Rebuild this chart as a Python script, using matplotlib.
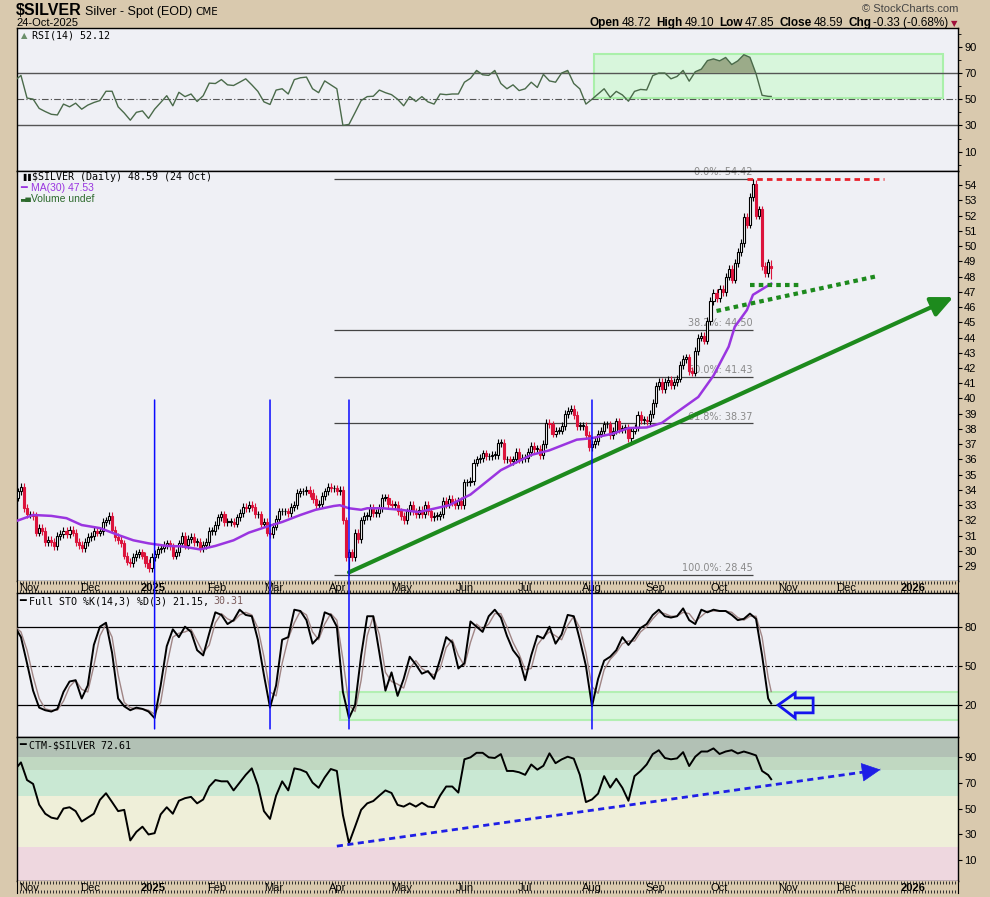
import numpy as np
import pandas as pd
import matplotlib
matplotlib.use('Agg')
import matplotlib.pyplot as plt
from matplotlib.patches import Rectangle, Polygon, ConnectionPatch

# ---------------- data ----------------
holidays = ['2024-11-28', '2024-12-25', '2025-01-01', '2025-01-20', '2025-02-17',
            '2025-04-18', '2025-05-26', '2025-06-19', '2025-07-04', '2025-09-01',
            '2025-11-27', '2025-12-25', '2026-01-01', '2026-01-19']

close_oct24 = [33.5, 33.9, 34.2, 32.8]
close_nov24 = [32.4, 32.4, 32.3, 31.2, 31.5, 31.3, 30.6, 30.7, 30.6, 30.3,
               31.0, 31.1, 31.3, 31.1, 31.4, 31.2, 30.6, 30.4, 30.2, 30.6]
close_dec24 = [30.9, 31.0, 31.3, 31.2, 31.3, 31.9, 32.0, 32.3, 31.4, 30.9,
               30.7, 30.5, 29.7, 29.3, 29.2, 29.6, 29.8, 29.9, 29.7, 29.2, 28.9]
close_jan25 = [29.6, 29.8, 30.1, 30.2, 30.4, 30.5, 30.3, 29.7, 29.9, 30.5,
               31.0, 30.4, 30.8, 30.9, 30.6, 30.6, 30.2, 30.4, 30.6, 31.3, 31.3]
close_feb25 = [31.7, 32.2, 32.4, 31.9, 31.9, 31.9, 31.8, 32.2, 32.5, 32.9,
               32.8, 33.0, 32.9, 32.4, 32.4, 31.8, 31.9, 31.2, 31.1]
close_mar25 = [31.6, 32.1, 32.6, 32.6, 32.6, 32.5, 32.9, 33.0, 33.8, 33.9,
               33.9, 34.0, 33.8, 33.4, 33.0, 33.1, 33.6, 33.9, 34.2, 34.1, 34.1]
close_apr25 = [33.9, 34.0, 32.0, 29.6, 29.9, 29.6, 31.2, 30.8, 32.0, 32.3,
               32.3, 32.8, 32.5, 32.5, 32.8, 33.5, 33.5, 33.1, 33.0, 33.0, 32.6]
close_may25 = [32.3, 32.0, 32.6, 33.0, 32.6, 32.4, 32.7, 32.4, 33.0, 32.6,
               32.2, 32.3, 32.3, 32.4, 33.3, 33.1, 33.4, 33.2, 33.0, 33.3, 33.0]
close_jun25 = [34.5, 34.5, 34.6, 35.8, 36.0, 36.1, 36.4, 36.2, 36.2, 36.3,
               36.3, 37.1, 37.1, 36.0, 36.0, 35.9, 36.0, 36.5, 36.0, 36.1]
close_jul25 = [36.1, 36.5, 36.9, 36.7, 36.7, 36.3, 37.0, 38.4, 38.3, 37.7, 37.9,
               37.9, 38.2, 39.0, 39.2, 39.3, 38.9, 38.2, 38.2, 38.2, 37.6, 36.8]
close_aug25 = [37.0, 37.2, 37.7, 37.9, 38.3, 38.3, 37.6, 37.9, 38.5, 38.0, 38.0,
               38.1, 37.4, 37.9, 38.1, 38.9, 38.6, 38.6, 38.5, 39.0, 39.7]
close_sep25 = [40.8, 41.1, 40.6, 41.1, 41.2, 40.9, 41.1, 41.3, 42.2, 42.6, 42.7,
               41.8, 41.7, 43.1, 44.0, 44.1, 43.8, 45.1, 46.4, 46.9, 46.6]
close_oct25 = [47.2, 47.0, 48.0, 48.5, 47.8, 48.9, 49.6, 50.2, 51.9, 51.4,
               53.2, 54.1, 52.0, 52.4, 48.7, 48.2, 48.92, 48.59]

last_ohlc = (48.72, 49.10, 47.85, 48.59)
swing_low = ('2025-04-07', 28.45)
swing_high = ('2025-10-16', 54.42)
wick = 0.25

ma30_dates = ['2024-10-29', '2024-11-05', '2024-11-13', '2024-11-20', '2024-11-27',
              '2024-12-06', '2024-12-16', '2024-12-23', '2024-12-31', '2025-01-09',
              '2025-01-16', '2025-01-27', '2025-02-03', '2025-02-11', '2025-02-19',
              '2025-02-27', '2025-03-06', '2025-03-14', '2025-03-21', '2025-03-31',
              '2025-04-02', '2025-04-07', '2025-04-11', '2025-04-15', '2025-04-23',
              '2025-05-01', '2025-05-09', '2025-05-23', '2025-06-04', '2025-06-18',
              '2025-07-03', '2025-07-14', '2025-07-25', '2025-08-01', '2025-08-12',
              '2025-08-19', '2025-08-27', '2025-09-04', '2025-09-12', '2025-09-22',
              '2025-09-29', '2025-10-06', '2025-10-08', '2025-10-14', '2025-10-16',
              '2025-10-24']
ma30_vals = [32.0, 32.36, 32.3, 32.15, 31.7, 31.5, 31.05, 30.7, 30.5, 30.33,
             30.3, 30.1, 30.33, 30.7, 31.2, 31.6, 31.9, 32.36, 32.7, 32.95,
             33.0, 32.8, 32.7, 32.8, 32.8, 32.7, 32.55, 33.0, 33.7, 35.3,
             36.3, 36.6, 37.3, 37.4, 37.7, 38.06, 38.1, 38.4, 39.25, 40.1,
             41.5, 43.4, 44.7, 45.8, 46.8, 47.53]

# indicator readings: every 2nd session, the last entry is the latest session
rsi_vals = [64.3, 68.2, 50.9, 50.1, 43, 40.6, 38.5, 38, 46.3, 44.2,
            47, 42.4, 45.5, 47.5, 49, 56.1, 56.1, 44.2, 39.5, 34,
            40, 41.1, 35.4, 42.4, 47.5, 52.7, 45, 55.3, 52, 54,
            48.3, 52.7, 62.3, 62, 65, 61, 60.5, 63, 65.6, 61,
            56, 48, 46, 57, 58, 54, 65, 66.4, 66.9, 58,
            55, 64, 61, 58, 30, 30.8, 39.8, 49, 52, 52.3,
            57, 55, 53.5, 50, 45, 52, 48.3, 52, 48, 46.3,
            54, 53.5, 54, 54, 63, 66, 72, 68.7, 68.2, 72,
            62, 58, 61, 56.6, 58, 63, 59, 69, 64, 63,
            70, 72, 62, 57.9, 46.3, 50, 54, 58, 51.4, 56,
            53.3, 48.5, 56, 57.5, 57.1, 68, 70, 70, 65.6, 67.4,
            72, 63.8, 71, 73, 79.5, 80.8, 79.3, 81.9, 76.5, 79.3,
            84, 82, 69.5, 53, 52.2, 52.12]
sto_k = [80, 72, 52, 31, 18, 16, 15, 17, 30, 38,
         39, 25, 35, 66, 80, 83, 60, 25, 19, 16,
         18, 17, 15, 10, 35, 65, 78, 72, 80, 76,
         62, 58, 75, 91, 89, 82, 85, 93, 89, 88,
         70, 43, 18, 35, 70, 72, 93, 92, 85, 67,
         72, 91, 89, 80, 30, 10, 20, 58, 88, 88,
         60, 31, 45, 27, 40, 57, 51, 44, 46, 40,
         55, 72, 68, 48, 52, 84, 80, 76, 88, 93,
         87, 73, 62, 56, 39, 58, 73, 71, 80, 67,
         74, 89, 88, 70, 50, 19, 40, 54, 57, 62,
         72, 66, 72, 79, 82, 89, 93, 88, 87, 88,
         94, 85, 82, 93, 91, 93, 92, 92, 89, 85,
         86, 90, 86, 58, 25, 21.15]
sto_d = [80, 76, 62, 42, 25, 17, 16, 16, 23, 34,
         39, 32, 30, 50, 73, 82, 72, 43, 22, 18,
         17, 17, 16, 13, 22, 50, 72, 75, 76, 78,
         69, 60, 66, 83, 90, 86, 84, 89, 91, 89,
         79, 57, 30, 27, 52, 71, 83, 92, 89, 76,
         70, 82, 90, 85, 55, 20, 15, 39, 73, 88,
         74, 45, 38, 36, 33, 48, 54, 48, 45, 43,
         48, 64, 70, 58, 50, 68, 82, 78, 82, 90,
         90, 80, 68, 59, 47, 48, 66, 72, 76, 73,
         70, 81, 88, 79, 60, 34, 29, 47, 55, 60,
         67, 69, 69, 76, 80, 86, 91, 90, 88, 88,
         91, 90, 84, 88, 92, 92, 92, 92, 91, 87,
         85, 88, 88, 72, 41, 30.31]
ctm_vals = [80, 85.6, 72, 69, 53, 46, 43, 42, 50, 51,
            48, 40, 43, 46, 56.7, 61.8, 55, 48, 49, 25.4,
            32, 36, 30, 31, 45.5, 51, 46, 56, 58, 59,
            54, 57, 67, 72, 71, 71, 64, 70, 76, 81,
            68, 48, 42, 60, 71, 64, 81, 80, 78, 70,
            66, 74, 80.5, 79, 45, 23.3, 36, 49, 54, 55.8,
            60, 64, 62, 52.8, 51.5, 54, 51.5, 54.5, 51.5, 51,
            60, 67, 67, 62.3, 88, 89.5, 93, 93, 89.5, 89,
            92, 79, 79, 78, 76, 84, 80, 83, 92.6, 85,
            87.9, 90, 88.5, 76, 55, 57, 61.5, 75, 66.2, 73,
            66, 56, 75, 79, 84, 92, 95, 89, 88, 88.7,
            93.5, 82.8, 90, 94, 94, 96.4, 92.1, 94, 95, 92.5,
            94, 92.6, 91, 79, 75.9, 72.61]

fib_pct = ['0.0%', '38.2%', '50.0%', '61.8%', '100.0%']
fib_vals = [54.42, 44.50, 41.43, 38.37, 28.45]
cycle_lows = ['2025-01-03', '2025-02-28', '2025-04-07', '2025-08-01']

close = (close_oct24 + close_nov24 + close_dec24 + close_jan25 + close_feb25 +
         close_mar25 + close_apr25 + close_may25 + close_jun25 + close_jul25 +
         close_aug25 + close_sep25 + close_oct25)

# ---------------- trading calendar ----------------
cal = pd.bdate_range('2024-10-28', '2026-02-27')
cal = cal[~cal.isin(pd.to_datetime(holidays))]
pos = {d: i for i, d in enumerate(cal)}


def ix(s):
    return pos[pd.Timestamp(s)]


n = len(close)
xs = np.arange(n)
x2 = list(range(0, n, 2)) + [n - 1]
XL = (0.7, 310.5)

# ---------------- figure layout ----------------
W, H = 990, 897
FRAME = '#d9c9ae'
PANEL = '#eff0f5'
fig = plt.figure(figsize=(W / 100, H / 100), dpi=100, facecolor=FRAME)


def fx(px):
    return px / W


def fy(py):
    return 1 - py / H


def box(top, bottom):
    return [fx(17), fy(bottom), (958 - 17) / W, (bottom - top) / H]


ax_r = fig.add_axes(box(28, 171))
ax_p = fig.add_axes(box(171, 581))
ax_b1 = fig.add_axes(box(581, 593))
ax_s = fig.add_axes(box(593, 737))
ax_c = fig.add_axes(box(737, 881))
ax_b2 = fig.add_axes(box(881, 893))

tickfont = dict(family='Liberation Sans', size=8)
for ax in (ax_r, ax_p, ax_s, ax_c):
    ax.set_facecolor(PANEL)
    ax.set_xlim(*XL)
    ax.yaxis.tick_right()
    ax.tick_params(axis='x', which='both', bottom=False, top=False, labelbottom=False)
    ax.tick_params(axis='y', which='major', direction='out', length=3, width=0.8, pad=1.5)
    ax.tick_params(axis='y', which='minor', direction='out', length=2, width=0.6)
    for s in ax.spines.values():
        s.set_linewidth(1.0)

# date bands
for ax in (ax_b1, ax_b2):
    ax.set_facecolor(FRAME)
    ax.set_xlim(*XL)
    ax.set_ylim(0, 1)
    ax.set_yticks([])
    ax.set_xticks([])
    ax.set_xticks(np.arange(0, 312), minor=True)
    ax.tick_params(axis='x', which='minor', top=True, bottom=True, direction='in',
                   length=2.2, width=0.7, color='#303030')
    ax.spines['top'].set_visible(False)
    ax.spines['bottom'].set_visible(False)
    last_month = None
    for i, d in enumerate(cal):
        if i > XL[1]:
            break
        key = (d.year, d.month)
        if key != last_month:
            last_month = key
            if i < 2:
                continue
            if d.month == 1:
                ax.text(i, 0.45, str(d.year), ha='center', va='center',
                        fontsize=8, fontweight='bold', family='Liberation Sans')
            else:
                ax.text(i, 0.45, d.strftime('%b'), ha='center', va='center',
                        fontsize=8, family='Liberation Sans')

# ---------------- RSI panel ----------------
rsi = np.array(rsi_vals)
ax_r.set_ylim(-4.8, 104.4)
ax_r.set_yticks([10, 30, 50, 70, 90])
ax_r.set_yticks(np.arange(0, 101, 10), minor=True)
ax_r.set_yticklabels([str(v) for v in [10, 30, 50, 70, 90]], fontdict=tickfont)
ax_r.add_patch(Rectangle((ix('2025-08-01') + 0.6, 51), ix('2026-01-15') - ix('2025-08-01'),
                         33.5, facecolor='#d8f6dc', edgecolor='#aaf0aa', lw=1.5, zorder=1))
ax_r.axhline(70, color='#555555', lw=1.0, zorder=2)
ax_r.axhline(30, color='#555555', lw=1.0, zorder=2)
ax_r.axhline(50, color='#555555', lw=0.8, ls=(0, (6, 2, 1, 2)), zorder=2)
ax_r.fill_between(x2, rsi, 70, where=rsi >= 70, interpolate=True,
                  color='#9bab89', zorder=3, lw=0)
ax_r.plot(x2, rsi, color='#4a6a4a', lw=1.0, zorder=4)
ax_r.text(0.016, 0.95, 'RSI(14) 52.12', transform=ax_r.transAxes, va='center',
          fontsize=7.2, family='DejaVu Sans Mono')
ax_r.text(0.004, 0.95, '\u25b2', transform=ax_r.transAxes, va='center',
          fontsize=6, color='#6b8f6b')

# ---------------- price panel ----------------
c = np.array(close)
o = np.r_[c[0], c[:-1]]
o[-1] = last_ohlc[0]
hi = np.maximum(o, c) + wick
lo = np.minimum(o, c) - wick
hi[-1], lo[-1] = last_ohlc[1], last_ohlc[2]
lo[ix(swing_low[0])] = swing_low[1]
hi[ix(swing_high[0])] = swing_high[1]
up = c >= o
dn = ~up
RED = '#dc143c'

ax_p.set_ylim(28.03, 54.92)
pt = list(range(29, 55))
ax_p.set_yticks(pt)
ax_p.set_yticklabels([str(v) for v in pt], fontdict=tickfont)

f0, f1 = ix('2025-03-31'), ix('2025-10-16')
for p, v in zip(fib_pct, fib_vals):
    ax_p.hlines(v, f0, f1, color='#444444', lw=0.9, zorder=1)
    ax_p.text(f1 - 0.2, v + 0.12, f'{p}: {v:.2f}', ha='right', va='bottom',
              fontsize=7, color='#8a8a8a', zorder=1)

ax_p.vlines(xs[up], lo[up], hi[up], color='black', lw=0.8, zorder=2)
ax_p.vlines(xs[dn], lo[dn], hi[dn], color=RED, lw=0.8, zorder=2)
body = np.maximum(np.abs(c - o), 0.05)
ax_p.bar(xs[up], body[up], bottom=np.minimum(o, c)[up], width=0.7,
         facecolor='white', edgecolor='black', lw=0.8, zorder=3)
ax_p.bar(xs[dn], body[dn], bottom=np.minimum(o, c)[dn], width=0.7,
         facecolor=RED, edgecolor=RED, lw=0.8, zorder=3)

ax_p.plot([ix(d) for d in ma30_dates], ma30_vals, color='#9a35e0', lw=1.8, zorder=4)

GREEN = '#1d8a1d'
ax_p.annotate('', xy=(ix('2026-01-22'), 46.65), xytext=(ix(swing_low[0]), 28.6),
              arrowprops=dict(arrowstyle='-|>,head_length=1.2,head_width=0.55',
                              color=GREEN, lw=3, mutation_scale=11,
                              shrinkA=0, shrinkB=0), zorder=5)
ax_p.plot([ix('2025-09-30'), ix('2025-12-15')], [45.74, 48.03], color=GREEN,
          lw=3, ls=(0, (1.1, 1.0)), zorder=5)
ax_p.plot([ix('2025-10-15'), ix('2025-11-06')], [47.42, 47.42], color=GREEN,
          lw=3, ls=(0, (1.1, 1.0)), zorder=5)
ax_p.plot([ix('2025-10-14'), ix('2025-12-17')], [54.42, 54.42], color='#e8202a',
          lw=2, ls=(0, (2, 1.5)), zorder=5)

ax_p.text(0.016, 0.985, '$SILVER (Daily) 48.59 (24 Oct)', transform=ax_p.transAxes,
          va='center', fontsize=7.2, family='DejaVu Sans Mono')
ax_p.text(0.0035, 0.985, '\u2590\u2590', transform=ax_p.transAxes, va='center',
          fontsize=5, color='black')
ax_p.text(0.0035, 0.958, '\u2501', transform=ax_p.transAxes, va='center',
          fontsize=8, color='#9a35e0')
ax_p.text(0.0145, 0.958, 'MA(30) 47.53', transform=ax_p.transAxes, va='center',
          fontsize=7.5, color='#9a35e0', family='Liberation Sans')
ax_p.text(0.0035, 0.932, '\u2583\u2585', transform=ax_p.transAxes, va='center',
          fontsize=5, color='#2d6a2d')
ax_p.text(0.0145, 0.932, 'Volume undef', transform=ax_p.transAxes, va='center',
          fontsize=7.5, color='#2d6a2d', family='Liberation Sans')

# ---------------- Full STO panel ----------------
ax_s.set_ylim(-4.5, 105.8)
ax_s.set_yticks([20, 50, 80])
ax_s.set_yticklabels(['20', '50', '80'], fontdict=tickfont)
ax_s.add_patch(Rectangle((ix('2025-04-02'), 8.5), XL[1] - ix('2025-04-02') + 1, 21.3,
                         facecolor='#d8f6dc', edgecolor='#b3efb3', lw=1.5, zorder=1))
ax_s.axhline(80, color='black', lw=0.9, zorder=2)
ax_s.axhline(20, color='black', lw=0.9, zorder=2)
ax_s.axhline(50, color='black', lw=0.8, ls=(0, (6, 2, 1, 2)), zorder=2)
ax_s.plot(x2, sto_d, color='#a08585', lw=1.0, zorder=3)
ax_s.plot(x2, sto_k, color='black', lw=1.4, zorder=4)
tip = n - 1 + 2.3
arrow_pts = [(tip, 20), (tip + 5.6, 29.2), (tip + 5.6, 25.4), (tip + 11.5, 25.4),
             (tip + 11.5, 14.0), (tip + 5.6, 14.0), (tip + 5.6, 10.1)]
ax_s.add_patch(Polygon(arrow_pts, closed=True, facecolor='none',
                       edgecolor='#1414ee', lw=2, zorder=5))

# ---------------- CTM panel ----------------
ax_c.set_ylim(-5.9, 105.2)
ax_c.set_yticks([10, 30, 50, 70, 90])
ax_c.set_yticklabels(['10', '30', '50', '70', '90'], fontdict=tickfont)
for a, b, col in [(90, 106, '#b2c1b5'), (80, 90, '#c0d8c1'), (60, 80, '#c9e8d3'),
                  (20, 60, '#efefd9'), (-6, 20, '#eed7df')]:
    ax_c.axhspan(a, b, color=col, lw=0, zorder=0)
ax_c.plot(x2, ctm_vals, color='black', lw=1.4, zorder=3)
a0, a1 = (ix('2025-04-01'), 21.0), (ix('2025-12-16'), 80.0)
ax_c.plot([a0[0], a1[0]], [a0[1], a1[1]], color='#1f1fe6', lw=2,
          ls=(0, (2.2, 1.6)), zorder=4)
slope = (a1[1] - a0[1]) / (a1[0] - a0[0])
ax_c.annotate('', xy=a1, xytext=(a1[0] - 4, a1[1] - 4 * slope),
              arrowprops=dict(arrowstyle='-|>,head_length=0.9,head_width=0.45',
                              color='#1f1fe6', lw=0.5, mutation_scale=14,
                              shrinkA=0, shrinkB=0), zorder=4)

# ---------------- cycle-low verticals ----------------
for d in cycle_lows:
    con = ConnectionPatch(xyA=(ix(d), 39.9), coordsA='data', axesA=ax_p,
                          xyB=(ix(d), 1.7), coordsB='data', axesB=ax_s,
                          color='#0a0aff', lw=1.1, zorder=10)
    fig.add_artist(con)

# ---------------- header / legend text rows ----------------
renderer = fig.canvas.get_renderer()


def text_row(x, y, pieces, right=False):
    arts, widths = [], []
    for s, kw, gap in pieces:
        t = fig.text(0, fy(y), s, va='baseline', **kw)
        arts.append(t)
        widths.append(t.get_window_extent(renderer).width + gap)
    cur = x - sum(widths) if right else x
    for t, w in zip(arts, widths):
        t.set_x(fx(cur))
        cur += w


LS = 'Liberation Sans'
text_row(16, 15, [('$SILVER', dict(fontsize=11.5, fontweight='bold', family=LS), 3),
                  ('Silver - Spot (EOD)', dict(fontsize=9, family=LS), 4),
                  ('CME', dict(fontsize=7.5, family='DejaVu Sans'), 0)])
fig.text(fx(16), fy(26), '24-Oct-2025', fontsize=8, family=LS, va='baseline')
fig.text(fx(958), fy(12), '\u00a9 StockCharts.com', fontsize=8, family=LS,
         color='#444444', ha='right', va='baseline')
bold = dict(fontsize=8.5, fontweight='bold', family=LS)
reg = dict(fontsize=8.5, family=LS)
text_row(957, 26, [('Open', bold, 2), ('48.72', reg, 5), ('High', bold, 2),
                   ('49.10', reg, 5), ('Low', bold, 2), ('47.85', reg, 5),
                   ('Close', bold, 2), ('48.59', reg, 5), ('Chg', bold, 2),
                   ('-0.33 (-0.68%)', reg, 2),
                   ('\u25bc', dict(fontsize=6, color='#a0103a'), 0)], right=True)

mono = dict(fontsize=7.2, family='DejaVu Sans Mono')
text_row(19, 604, [('\u2501', dict(fontsize=8), 3),
                   ('Full STO %K(14,3) %D(3) 21.15,', mono, 5),
                   ('30.31', dict(mono, color='#7a5a5a'), 0)])
text_row(19, 748, [('\u2501', dict(fontsize=8), 3),
                   ('CTM-$SILVER 72.61', mono, 0)])

fig.savefig('out.png', dpi=100, facecolor=FRAME)
